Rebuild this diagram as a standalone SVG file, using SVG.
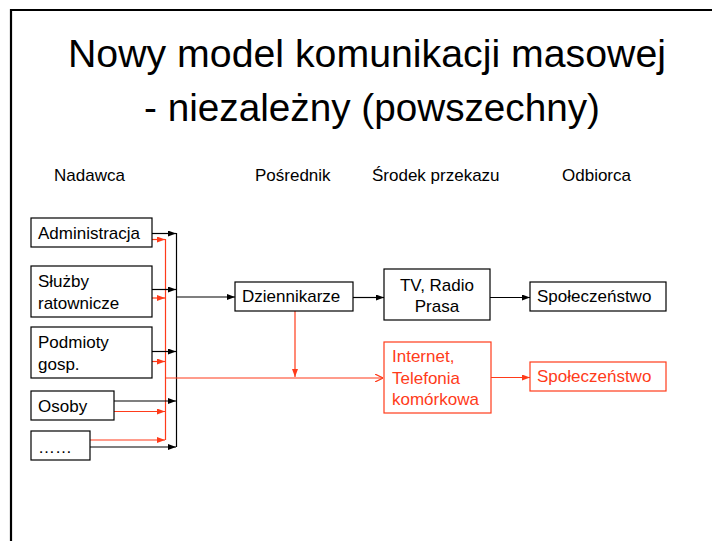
<svg xmlns="http://www.w3.org/2000/svg" width="712" height="541" viewBox="0 0 712 541">
<defs>
<style>
text{font-family:"Liberation Sans",Arial,sans-serif;fill:#000}
.t{font-size:38px}
.h{font-size:17px}
.n{font-size:17px}
.r{fill:#ff3b1a}
.box{fill:#fff;stroke:#000;stroke-width:1.2}
.rbox{fill:#fff;stroke:#ff3b1a;stroke-width:1.2}
.k{stroke:#000;stroke-width:1.2;fill:none}
.rd{stroke:#ff3b1a;stroke-width:1.2;fill:none}
</style>
<marker id="ak" viewBox="0 0 8 6" refX="8" refY="3" markerWidth="8" markerHeight="6" markerUnits="userSpaceOnUse" orient="auto"><path d="M0,0L8,3L0,6z" fill="#000"/></marker>
<marker id="ar" viewBox="0 0 8 6" refX="8" refY="3" markerWidth="8" markerHeight="6" markerUnits="userSpaceOnUse" orient="auto"><path d="M0,0L8,3L0,6z" fill="#ff3b1a"/></marker>
<marker id="ao" viewBox="0 0 8 8" refX="8" refY="4" markerWidth="8" markerHeight="8" markerUnits="userSpaceOnUse" orient="auto"><path d="M0,0L8,4L0,8" fill="none" stroke="#ff3b1a" stroke-width="1.2"/></marker>
</defs>
<rect width="712" height="541" fill="#fff"/>
<path d="M11,541V10H712" fill="none" stroke="#000" stroke-width="2.2"/>
<g id="title">
<text class="t" x="367" y="67" text-anchor="middle" textLength="598" lengthAdjust="spacingAndGlyphs">Nowy model komunikacji masowej</text>
<text class="t" x="372" y="121" text-anchor="middle" textLength="456" lengthAdjust="spacingAndGlyphs">- niezależny (powszechny)</text>
</g>
<g id="headers">
<text class="h" x="54" y="181">Nadawca</text>
<text class="h" x="255" y="181">Pośrednik</text>
<text class="h" x="372" y="181">Środek przekazu</text>
<text class="h" x="562" y="181">Odbiorca</text>
</g>
<g id="connectors">
<path class="k" d="M176.5,233V447"/>
<path class="rd" d="M165.5,239V440"/>
<path class="k" d="M152,233.5H176" marker-end="url(#ak)"/>
<path class="rd" d="M152,239.5H165" marker-end="url(#ar)"/>
<path class="k" d="M152,289.5H176" marker-end="url(#ak)"/>
<path class="rd" d="M152,298H165" marker-end="url(#ar)"/>
<path class="k" d="M152,351.5H176" marker-end="url(#ak)"/>
<path class="rd" d="M152,361.5H165" marker-end="url(#ar)"/>
<path class="k" d="M114,401H176" marker-end="url(#ak)"/>
<path class="rd" d="M114,411.5H165" marker-end="url(#ar)"/>
<path class="rd" d="M90,440H165" marker-end="url(#ar)"/>
<path class="k" d="M90,447H176" marker-end="url(#ak)"/>
<path class="k" d="M176.5,297H235" marker-end="url(#ak)"/>
<path class="rd" d="M165.5,378H383" marker-end="url(#ao)"/>
<path class="rd" d="M295,311V377" marker-end="url(#ar)"/>
<path class="k" d="M353,297.5H384" marker-end="url(#ak)"/>
<path class="k" d="M490,297.5H530" marker-end="url(#ak)"/>
<path class="rd" d="M491,377.5H530" marker-end="url(#ar)"/>
</g>
<g id="n-administracja"><rect class="box" x="31" y="218" width="121" height="29"/><text class="n" x="38" y="239">Administracja</text></g>
<g id="n-sluzby"><rect class="box" x="31" y="266" width="121" height="51"/><text class="n" x="38" y="287">Służby</text><text class="n" x="38" y="309">ratownicze</text></g>
<g id="n-podmioty"><rect class="box" x="31" y="327" width="121" height="51"/><text class="n" x="38" y="348">Podmioty</text><text class="n" x="38" y="370">gosp.</text></g>
<g id="n-osoby"><rect class="box" x="31" y="391" width="83" height="29"/><text class="n" x="38" y="412">Osoby</text></g>
<g id="n-dots"><rect class="box" x="31" y="431" width="59" height="29"/><text class="n" x="38" y="453">……</text></g>
<g id="n-dziennikarze"><rect class="box" x="235" y="282" width="118" height="29"/><text class="n" x="242" y="302">Dziennikarze</text></g>
<g id="n-tv"><rect class="box" x="384" y="269" width="106" height="51"/><text class="n" x="437" y="291" text-anchor="middle">TV, Radio</text><text class="n" x="437" y="312" text-anchor="middle">Prasa</text></g>
<g id="n-internet"><rect class="rbox" x="384" y="342" width="107" height="71"/><text class="n r" x="392" y="362">Internet,</text><text class="n r" x="392" y="384">Telefonia</text><text class="n r" x="392" y="405">komórkowa</text></g>
<g id="n-spol1"><rect class="box" x="530" y="282" width="136" height="29"/><text class="n" x="537" y="302">Społeczeństwo</text></g>
<g id="n-spol2"><rect class="rbox" x="530" y="362" width="136" height="29"/><text class="n r" x="537" y="382">Społeczeństwo</text></g>
</svg>
